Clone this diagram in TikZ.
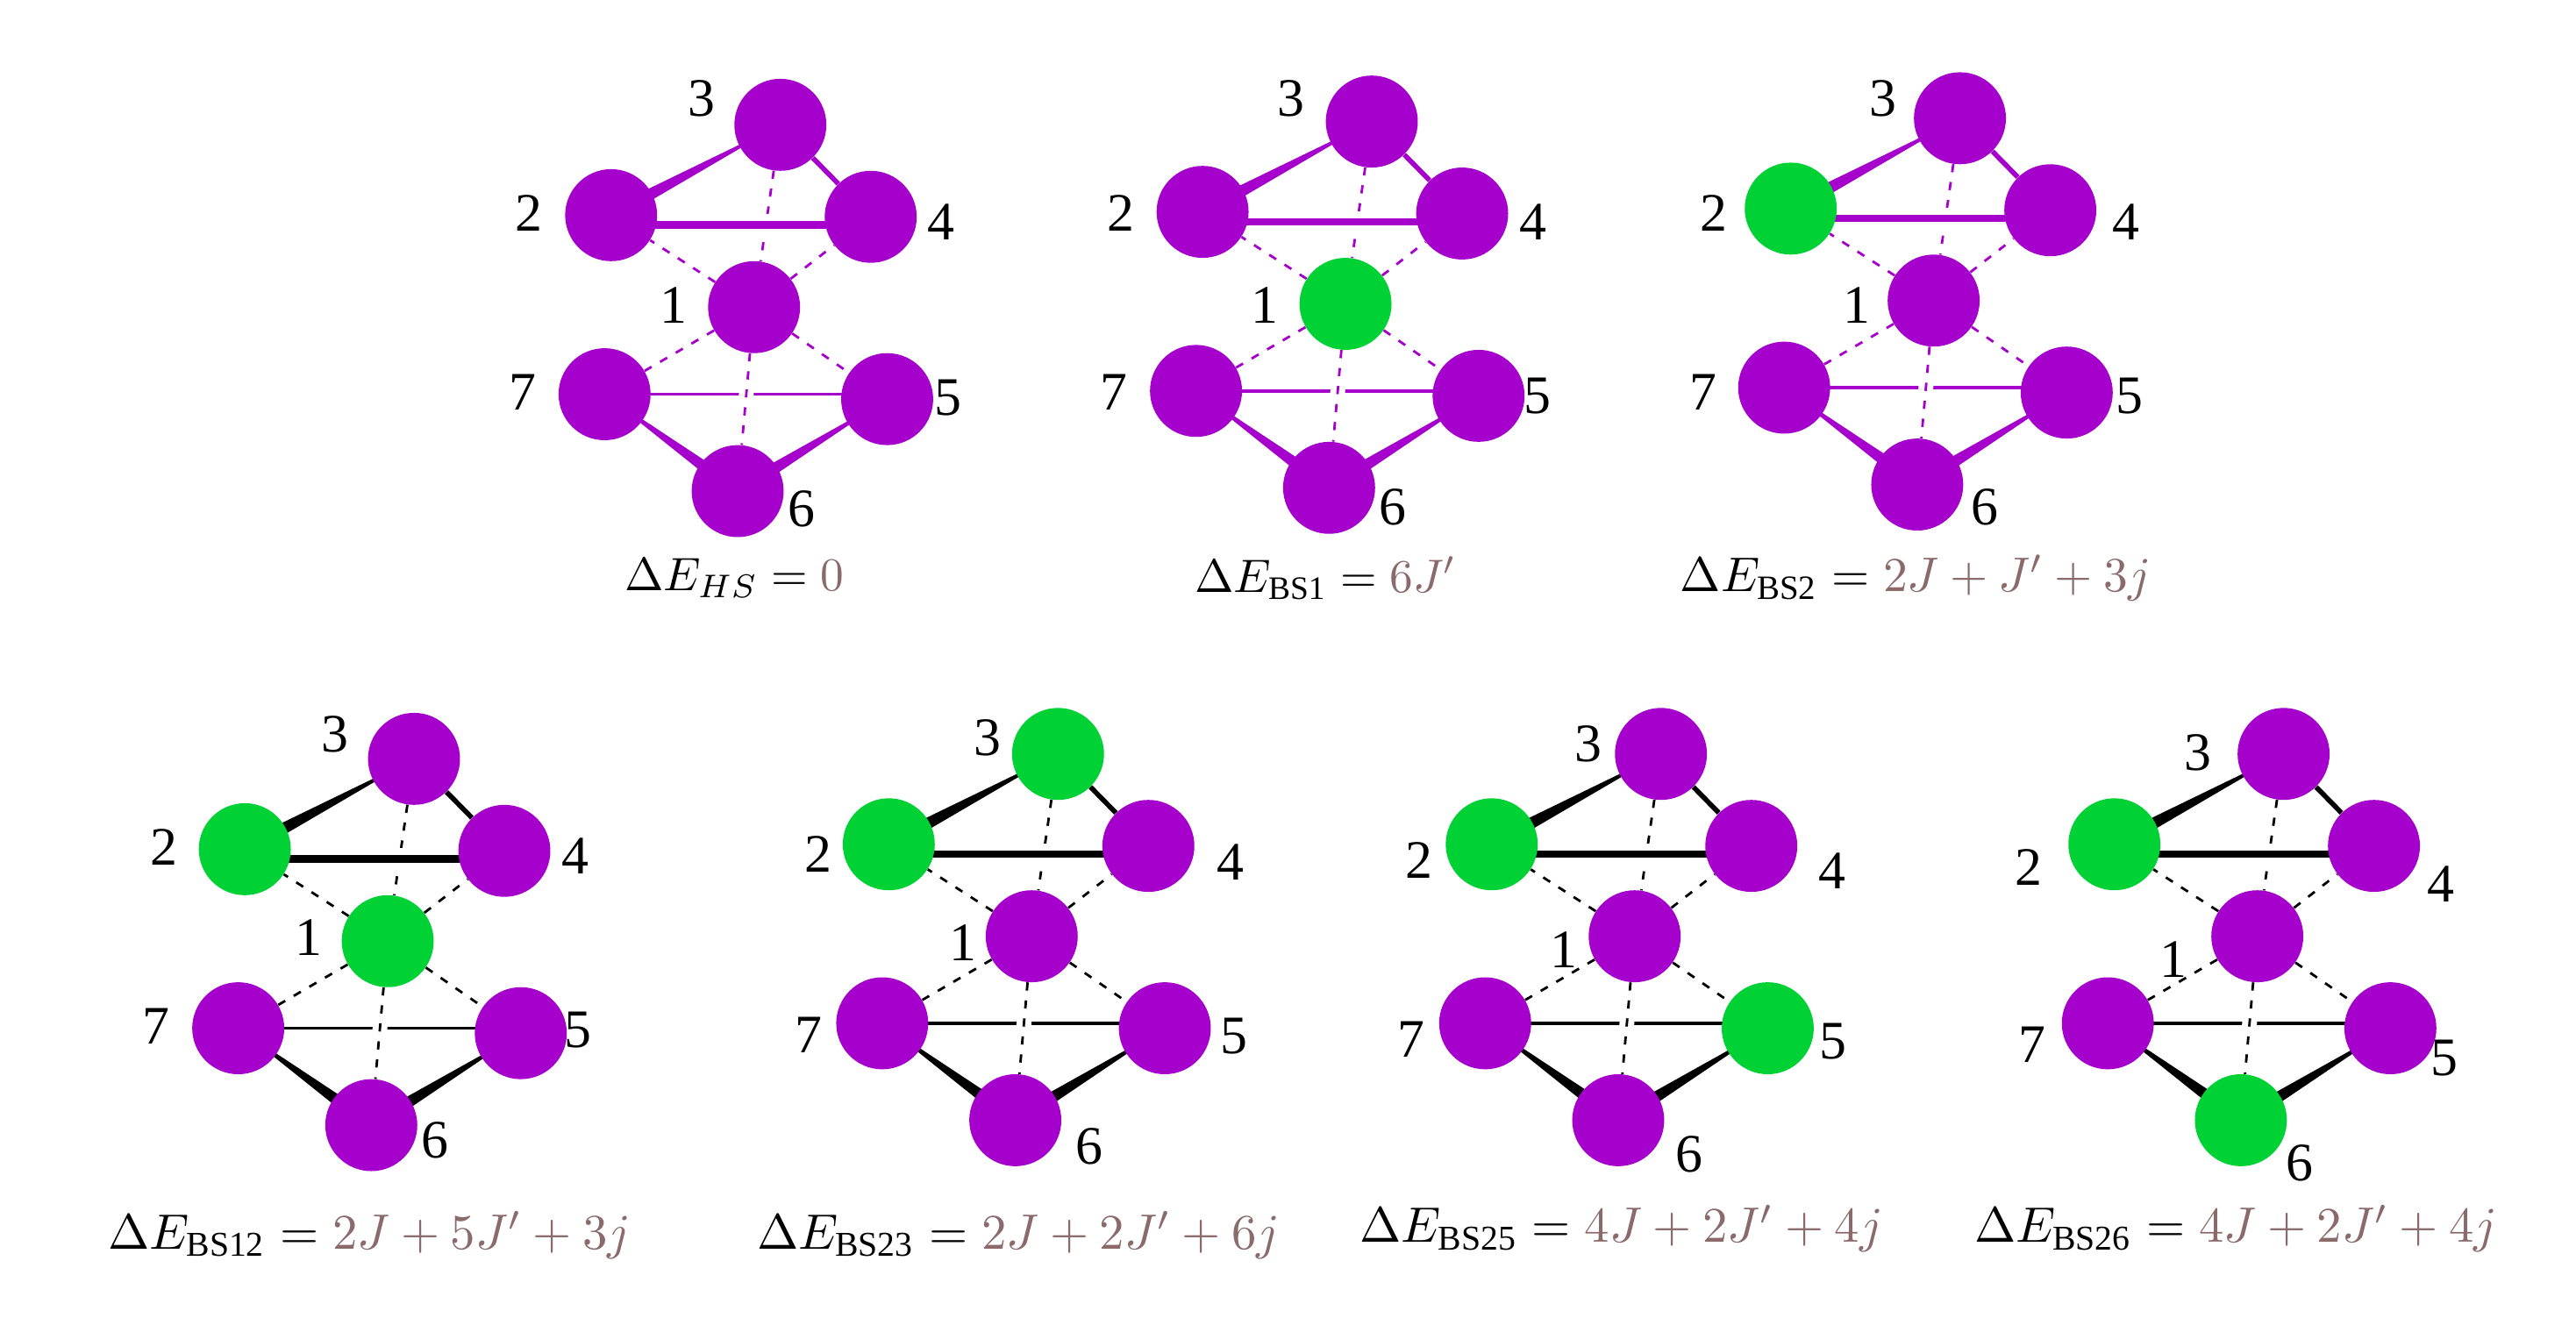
\documentclass[tikz,border=0pt]{standalone}
\usepackage{amsmath}
\usepackage{fontspec}
\setmainfont{Liberation Serif}
\usepackage{tikz}
\usetikzlibrary{calc,backgrounds}
\definecolor{spinup}{HTML}{A600CC}
\definecolor{spindown}{HTML}{00D235}
\definecolor{coeff}{HTML}{8A6A6A}
\tikzset{
  up/.style={circle,fill=spinup,inner sep=0pt,minimum size=56pt},
  down/.style={circle,fill=spindown,inner sep=0pt,minimum size=56pt},
  num/.style={inner sep=0pt,font=\fontsize{33}{33}\selectfont},
  energy/.style={inner sep=0pt,scale=2.85,font=\normalsize},
  weak/.style={line width=1.5pt,dash pattern=on 5pt off 6pt},
}
\newcommand{\wedgebond}[3]{\fill[#3] ($(#1)!4.5pt!90:(#2)$) -- ($(#1)!4.5pt!-90:(#2)$) -- (#2.center) -- cycle;}
% #1 tag, #2 place of site 3, #3 bond colour, #4 sites, #5 text
\newcommand{\cluster}[5]{
  \begin{scope}[shift={(#2)}]
    \foreach \n/\col/\lx/\ly [count=\i] in {#4} {
      \ifcase\i\or
        \coordinate (p) at (0,0); \or
        \coordinate (p) at (-103,55); \or
        \coordinate (p) at (55,56); \or
        \coordinate (p) at (-16,111); \or
        \coordinate (p) at (-107,164); \or
        \coordinate (p) at (65,167); \or
        \coordinate (p) at (-26,223); \fi
      \node[\col] (#1\n) at (p) {};
      \node[num] (#1l\n) at (\lx,\ly) {\n};
    }
  \end{scope}
  \begin{scope}[on background layer]
    \draw[#3,weak] (#13) -- (#11);
    \draw[#3,weak] (#11) -- (#12);
    \draw[#3,weak] (#11) -- (#14);
    \draw[#3,weak] (#11) -- (#15);
    \draw[#3,weak] (#11) -- (#17);
    \draw[#3,line width=2pt] (#17.center) -- (#17.center -| #15.center);
    \draw[white,line width=9pt] ($(#11)!.4!(#16)$) -- ($(#11)!.54!(#16)$);
    \draw[#3,weak] (#11) -- (#16);
    \draw[white,line width=13pt] ([yshift=-6pt]#12.center) -- ([yshift=-6pt]#12.center -| #14.center);
    \draw[#3,line width=4.5pt] ([yshift=-6pt]#12.center) -- ([yshift=-6pt]#12.center -| #14.center);
    \draw[#3,line width=3pt] (#13) -- (#14);
    \wedgebond{#12}{#13}{#3}
    \wedgebond{#16}{#17}{#3}
    \wedgebond{#16}{#15}{#3}
  \end{scope}
  #5
}
\begin{document}
\begin{tikzpicture}[x=1pt,y=-1pt]
  \useasboundingbox (0,0) rectangle (1568,802);
  \cluster{a}{475,76}{spinup}{3/up/-48/-16,2/up/-153/54,4/up/98/59,1/up/-65/110,7/up/-157/163,5/up/102/166,6/up/13/234}
    {\node[energy] (ea) at (447,352) {$\Delta E_{HS}={}$\textcolor{coeff}{$0$}};}
  \cluster{b}{835,74}{spinup}{3/up/-49/-14,2/up/-153/56,4/up/98/61,1/down/-65/112,7/up/-157/165,5/up/101/167,6/up/13/235}
    {\node[energy] (eb) at (807,352) {$\Delta E_{\mathrm{BS1}}={}$\textcolor{coeff}{$6J'$}};}
  \cluster{c}{1193,72}{spinup}{3/up/-47/-12,2/down/-150/58,4/up/101/63,1/up/-63/114,7/up/-156/167,5/up/103/169,6/up/15/237}
    {\node[energy,scale=1.04] (ec) at (1166,352) {$\Delta E_{\mathrm{BS2}}={}$\textcolor{coeff}{$2J+J'+3j$}};}
  \cluster{d}{252,462}{black}{3/up/-48/-15,2/down/-152/54,4/up/98/59,1/down/-64/109,7/up/-157/163,5/up/100/165,6/up/13/232}
    {\node[energy,scale=1.063] (ed) at (225,752) {$\Delta E_{\mathrm{BS12}}={}$\textcolor{coeff}{$2J+5J'+3j$}};}
  \cluster{e}{644,459}{black}{3/down/-43/-10,2/down/-146/61,4/up/105/66,1/up/-58/115,7/up/-152/171,5/up/107/172,6/up/19/239}
    {\node[energy,scale=1.063] (ee) at (620,752) {$\Delta E_{\mathrm{BS23}}={}$\textcolor{coeff}{$2J+2J'+6j$}};}
  \cluster{f}{1011,459}{black}{3/up/-44/-6,2/down/-147/65,4/up/104/71,1/up/-59/119,7/up/-152/174,5/down/105/175,6/up/17/244}
    {\node[energy,scale=1.063] (ef) at (987,748) {$\Delta E_{\mathrm{BS25}}={}$\textcolor{coeff}{$4J+2J'+4j$}};}
  \cluster{g}{1390,459}{black}{3/up/-52/-1,2/down/-155/69,4/up/96/79,1/up/-67/125,7/up/-153/177,5/up/98/185,6/down/10/249}
    {\node[energy,scale=1.063] (eg) at (1361,748) {$\Delta E_{\mathrm{BS26}}={}$\textcolor{coeff}{$4J+2J'+4j$}};}
\end{tikzpicture}
\end{document}
